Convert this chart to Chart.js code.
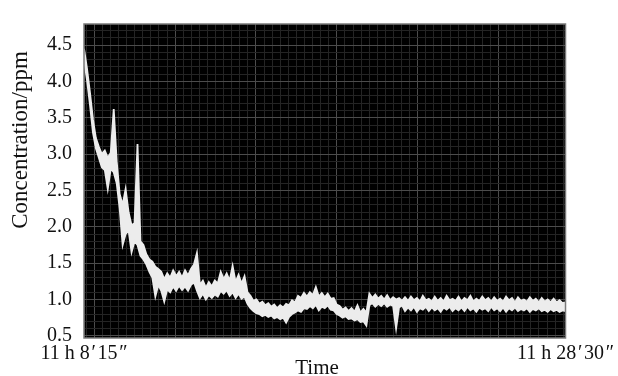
<!DOCTYPE html>
<html>
<head>
<meta charset="utf-8">
<script src="https://cdn.jsdelivr.net/npm/chart.js@4"></script>
<style>
  html, body { margin: 0; padding: 0; background: #fff; }
  #wrap { width: 618px; height: 376px; }
</style>
</head>
<body>
<div id="wrap"><canvas id="concChart" width="618" height="376"></canvas></div>
<script>
// time axis (seconds after 11 h 8'15")
const startLabel = '11 h 8\u200a\u2032\u200a15\u200a\u2033';
const endLabel = '11 h 28\u200a\u2032\u200a30\u200a\u2033';
const totalSeconds = 1215;
const sampleSeconds = 7.5;

// upper and lower edge of the noisy trace (ppm), one pair every sampleSeconds
const concHigh = [
    4.45, 4.18, 3.85, 3.48, 3.22, 3.10, 3.00, 3.05, 2.95, 3.02,
    3.62, 2.90, 2.45, 2.30, 2.52, 2.20, 2.02, 2.05, 3.14, 1.80,
    1.75, 1.62, 1.55, 1.52, 1.45, 1.42,
    1.38, 1.28, 1.36, 1.30, 1.40, 1.32, 1.38, 1.30, 1.40, 1.33,
    1.42, 1.48, 1.64, 1.20, 1.26, 1.16, 1.24, 1.18, 1.26, 1.22,
    1.38, 1.28, 1.36, 1.26, 1.46, 1.24, 1.34, 1.22, 1.32, 1.10,
    1.05, 0.98, 1.00, 0.94, 0.97, 0.92, 0.95, 0.90, 0.93, 0.88,
    0.92, 0.89, 0.94, 0.92, 0.99, 0.96, 1.05, 1.02, 1.09, 1.04,
    1.10, 1.06, 1.17, 1.04, 1.09, 1.03, 1.08, 1.01, 1.02, 0.93,
    0.91, 0.86, 0.89, 0.84, 0.88, 0.83, 0.92, 0.82, 0.87, 0.82,
    1.08, 1.02, 1.07, 1.01, 1.05, 1.00, 1.06, 0.99, 1.03, 1.00, 1.02, 0.98,
    1.03, 0.98, 1.04, 0.99, 1.02, 0.97, 1.05, 0.99, 1.01, 0.97,
    1.04, 0.98, 1.02, 0.97, 1.05, 0.99, 1.01, 0.98, 1.04, 0.97,
    1.02, 0.99, 1.05, 0.97, 1.01, 0.98, 1.04, 0.99, 1.02, 0.97,
    1.03, 0.98, 1.01, 0.97, 1.04, 0.99, 1.02, 0.96, 1.03, 0.98,
    1.00, 0.97, 1.03, 0.98, 1.01, 0.96, 1.02, 0.97, 1.00, 0.96,
    1.01, 0.96, 0.99, 0.95, 0.96
];
const concLow = [
    4.30, 4.02, 3.68, 3.30, 3.08, 2.95, 2.82, 2.78, 2.52, 2.80,
    2.75, 2.60, 2.25, 1.75, 1.90, 1.95, 1.65, 1.80, 1.75, 1.60,
    1.55, 1.48, 1.38, 1.30, 1.04, 1.20,
    1.12, 0.97, 1.14, 1.10, 1.18, 1.12, 1.19, 1.13, 1.18, 1.12,
    1.20, 1.24, 1.12, 1.02, 1.08, 1.00, 1.06, 1.02, 1.07, 1.04,
    1.12, 1.08, 1.13, 1.05, 1.10, 1.02, 1.08, 1.01, 1.04, 0.94,
    0.88, 0.84, 0.81, 0.80, 0.77, 0.79, 0.76, 0.78, 0.74, 0.76,
    0.73, 0.75, 0.68, 0.76, 0.80, 0.82, 0.85, 0.83, 0.88, 0.87,
    0.91, 0.88, 0.93, 0.85, 0.90, 0.88, 0.92, 0.86, 0.85, 0.80,
    0.78, 0.75, 0.77, 0.73, 0.74, 0.71, 0.73, 0.69, 0.70, 0.64,
    0.92, 0.95, 0.90, 0.94, 0.91, 0.95, 0.90, 0.93, 0.91, 0.60, 0.89, 0.92,
    0.84, 0.89, 0.85, 0.90, 0.83, 0.88, 0.86, 0.90, 0.84, 0.89,
    0.85, 0.88, 0.83, 0.89, 0.86, 0.90, 0.84, 0.88, 0.85, 0.89,
    0.84, 0.90, 0.85, 0.88, 0.83, 0.89, 0.86, 0.88, 0.84, 0.90,
    0.85, 0.88, 0.84, 0.89, 0.83, 0.88, 0.85, 0.89, 0.84, 0.87,
    0.85, 0.88, 0.83, 0.87, 0.85, 0.88, 0.84, 0.86, 0.83, 0.87,
    0.84, 0.86, 0.83, 0.85, 0.84
];

// y axis
const yMin = 0.47;
const yMax = 4.79;
const yTickLabels = ['0.5', '1.0', '1.5', '2.0', '2.5', '3.0', '3.5', '4.0', '4.5'];

const serif = "'Liberation Serif', 'Times New Roman', serif";
const traceColor = '#ececec';

// black plot area, frame and the two axis titles
const plotFrame = {
    id: 'plotFrame',
    beforeDraw(chart) {
        const a = chart.chartArea;
        const c = chart.ctx;
        c.save();
        c.fillStyle = '#000';
        c.fillRect(a.left, a.top, a.right - a.left, a.bottom - a.top);
        c.restore();
    },
    afterDraw(chart) {
        const a = chart.chartArea;
        const c = chart.ctx;
        c.save();
        c.strokeStyle = '#7a7a7a';
        c.lineWidth = 1.5;
        c.strokeRect(a.left, a.top, a.right - a.left, a.bottom - a.top);

        c.fillStyle = '#111';
        c.font = '21px ' + serif;
        c.textAlign = 'center';
        c.textBaseline = 'middle';
        c.fillText('Time', 317, 368);

        c.translate(21, 140);
        c.rotate(-Math.PI / 2);
        c.font = '23px ' + serif;
        c.fillText('Concentration/ppm', 0, 0);
        c.restore();
    }
};

document.addEventListener('DOMContentLoaded', function() {
    const ctx = document.getElementById('concChart').getContext('2d');
    const high = concHigh.map((v, i) => ({ x: i * sampleSeconds, y: v }));
    const low = concLow.map((v, i) => ({ x: i * sampleSeconds, y: v }));

    new Chart(ctx, {
        type: 'line',
        data: {
            datasets: [{
                label: 'upper',
                data: high,
                borderColor: traceColor,
                borderWidth: 1.8,
                pointRadius: 0,
                tension: 0,
                fill: false
            }, {
                label: 'lower',
                data: low,
                borderColor: traceColor,
                backgroundColor: traceColor,
                borderWidth: 1.8,
                pointRadius: 0,
                tension: 0,
                fill: '-1'
            }]
        },
        options: {
            responsive: false,
            animation: false,
            layout: { padding: { top: 13, right: 51, left: 0, bottom: 0 } },
            plugins: {
                legend: { display: false },
                tooltip: { enabled: false }
            },
            scales: {
                x: {
                    type: 'linear',
                    min: 0,
                    max: totalSeconds,
                    afterBuildTicks(scale) {
                        // fine grid every 20.4 s, heavier line every tenth one
                        const ticks = [{ value: 0 }];
                        for (let k = 0; k < 60; k++) {
                            const v = 5.6 + k * 20.4;
                            ticks.push({ value: v, major: (k - 11) % 10 === 0 });
                        }
                        ticks.push({ value: totalSeconds });
                        scale.ticks = ticks;
                    },
                    afterFit(scale) { scale.height = 38; },
                    grid: {
                        drawTicks: false,
                        color: (c) => (c.tick && c.tick.major) ? '#4c4c4c' : '#242424',
                        lineWidth: 1
                    },
                    border: { display: false },
                    ticks: {
                        autoSkip: false,
                        maxRotation: 0,
                        padding: 4,
                        color: '#111',
                        font: { family: serif, size: 20 },
                        callback: (v) => v === 0 ? startLabel : (v === totalSeconds ? endLabel : '')
                    }
                },
                y: {
                    min: yMin,
                    max: yMax,
                    afterBuildTicks(scale) {
                        const ticks = [];
                        for (let k = 5; k <= 47; k++) {
                            ticks.push({ value: k / 10, major: k % 5 === 0 });
                        }
                        scale.ticks = ticks;
                    },
                    afterFit(scale) { scale.width = 84; },
                    grid: {
                        drawTicks: false,
                        color: (c) => (c.tick && c.tick.major) ? '#4c4c4c' : '#242424',
                        lineWidth: 1
                    },
                    border: { display: false },
                    ticks: {
                        autoSkip: false,
                        padding: 12,
                        color: '#111',
                        font: { family: serif, size: 20 },
                        callback: function(v) {
                            const s = Number(v).toFixed(1);
                            return yTickLabels.includes(s) && Math.abs(v * 2 - Math.round(v * 2)) < 1e-6 ? s : '';
                        }
                    }
                }
            }
        },
        plugins: [plotFrame]
    });
});
</script>
</body>
</html>
